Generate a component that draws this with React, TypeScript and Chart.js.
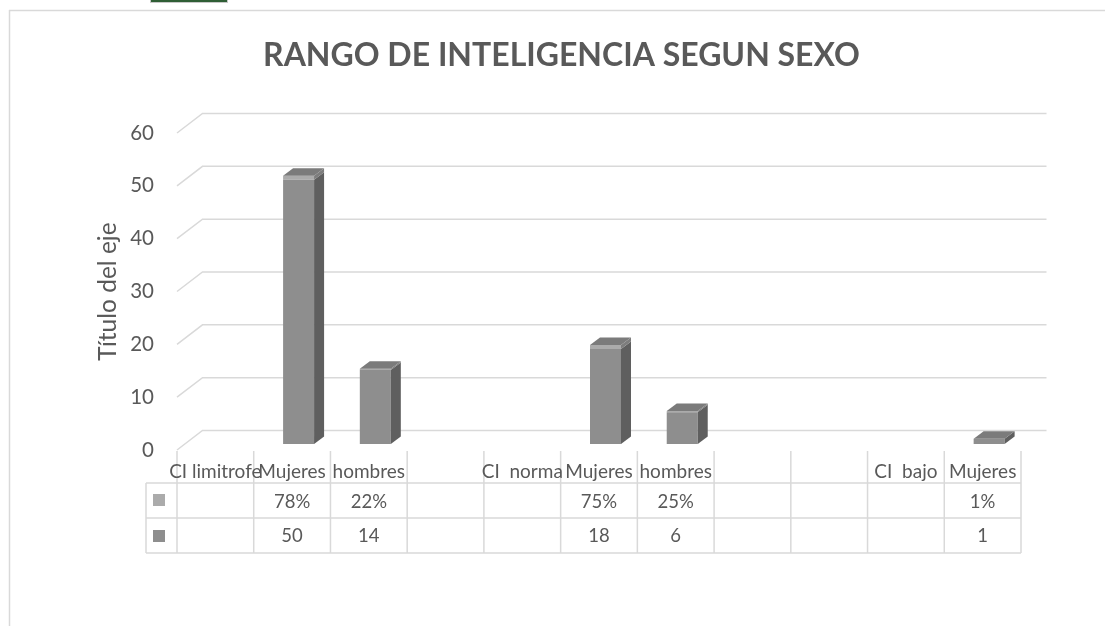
import React, { useEffect, useRef } from "react";
import { Chart, registerables } from "chart.js";

Chart.register(...registerables);

// ---- data ----
const categories = [
  "CI limitrofe",
  "Mujeres",
  "hombres",
  "",
  "CI  norma",
  "Mujeres",
  "hombres",
  "",
  "",
  "CI  bajo",
  "Mujeres",
];
const countValues: (number | null)[] = [null, 50, 14, null, null, 18, 6, null, null, null, 1];
const percentValues: (number | null)[] = [null, 0.78, 0.22, null, null, 0.75, 0.25, null, null, null, 0.01];
const yTicks = [0, 10, 20, 30, 40, 50, 60];
const chartTitle = "RANGO DE INTELIGENCIA SEGUN SEXO";
const axisTitle = "Título del eje";

// ---- styles ----
const FONT = "Lato";
const TEXT = "#595959";
const GRID = "#d9d9d9";
const DARK_FRONT = "#8e8e8e";
const DARK_SIDE = "#5f5f5f";
const LIGHT_FRONT = "#ababab";
const LIGHT_SIDE = "#7d7d7d";
const TOP_FACE = "#7b7b7b";
const BACK = { x: 25.5, y: -19.5 };
const BAR_SHIFT = { x: 6.5, y: -6 };
const DEPTH = { x: 10, y: -7.5 };

const fmtPct = (v: number) => Math.round(v * 100) + "%";

const deco3D = {
  id: "deco3D",
  beforeDraw(chart: any) {
    const ctx = chart.ctx;
    ctx.save();
    ctx.strokeStyle = GRID;
    ctx.lineWidth = 1.5;
    ctx.beginPath();
    ctx.moveTo(9.5, 10);
    ctx.lineTo(9.5, 626);
    ctx.moveTo(9, 10.5);
    ctx.lineTo(1105, 10.5);
    ctx.stroke();
    ctx.restore();
  },
  beforeDatasetsDraw(chart: any) {
    const ctx = chart.ctx;
    const { left, right } = chart.chartArea;
    const ys = chart.scales.y;
    ctx.save();
    ctx.strokeStyle = GRID;
    ctx.lineWidth = 1.5;
    ctx.beginPath();
    for (const v of yTicks) {
      const y = ys.getPixelForValue(v);
      ctx.moveTo(left, y);
      ctx.lineTo(left + BACK.x, y + BACK.y);
      ctx.lineTo(right + BACK.x, y + BACK.y);
    }
    ctx.stroke();
    ctx.restore();
    ctx.save();
    ctx.translate(BAR_SHIFT.x, BAR_SHIFT.y);
  },
  afterDatasetsDraw(chart: any) {
    const ctx = chart.ctx;
    const nSets = chart.data.datasets.length;
    for (let d = 0; d < nSets; d++) {
      const meta = chart.getDatasetMeta(d);
      const data = chart.data.datasets[d].data;
      meta.data.forEach((el: any, j: number) => {
        if (data[j] == null) return;
        const p = el.getProps(["x", "y", "base", "width"], true);
        const l = p.x - p.width / 2;
        const r = p.x + p.width / 2;
        const top = Math.min(p.y, p.base);
        const bot = Math.max(p.y, p.base);
        ctx.fillStyle = d === 0 ? DARK_SIDE : LIGHT_SIDE;
        ctx.beginPath();
        ctx.moveTo(r, top);
        ctx.lineTo(r + DEPTH.x, top + DEPTH.y);
        ctx.lineTo(r + DEPTH.x, bot + DEPTH.y);
        ctx.lineTo(r, bot);
        ctx.closePath();
        ctx.fill();
        let isTop = true;
        for (let k = d + 1; k < nSets; k++) {
          if (chart.data.datasets[k].data[j] != null) isTop = false;
        }
        if (isTop) {
          ctx.fillStyle = TOP_FACE;
          ctx.beginPath();
          ctx.moveTo(l, top);
          ctx.lineTo(l + DEPTH.x, top + DEPTH.y);
          ctx.lineTo(r + DEPTH.x, top + DEPTH.y);
          ctx.lineTo(r, top);
          ctx.closePath();
          ctx.fill();
        }
      });
    }
    ctx.restore();
  },
  afterDraw(chart: any) {
    const ctx = chart.ctx;
    const { left, right, bottom } = chart.chartArea;
    const xs = chart.scales.x;
    const n = categories.length;
    const w = (right - left) / n;
    const headTop = bottom + 1;
    const r1 = bottom + 33;
    const r2 = bottom + 68;
    const tBot = bottom + 103;
    const keyLeft = 146;

    ctx.save();
    // title
    ctx.fillStyle = TEXT;
    ctx.font = `bold 32px ${FONT}`;
    ctx.textAlign = "center";
    ctx.textBaseline = "alphabetic";
    ctx.fillText(chartTitle, 561.5, 66);

    // table grid
    ctx.strokeStyle = GRID;
    ctx.lineWidth = 1.5;
    ctx.beginPath();
    for (let i = 0; i <= n; i++) {
      const x = left + i * w;
      ctx.moveTo(x, headTop);
      ctx.lineTo(x, tBot);
    }
    ctx.moveTo(keyLeft, r1);
    ctx.lineTo(keyLeft, tBot);
    for (const y of [r1, r2, tBot]) {
      ctx.moveTo(keyLeft, y);
      ctx.lineTo(right, y);
    }
    ctx.stroke();

    // keys
    ctx.fillStyle = LIGHT_FRONT;
    ctx.fillRect(153, r1 + 11, 12, 12);
    ctx.fillStyle = DARK_FRONT;
    ctx.fillRect(153, r2 + 12, 12, 12);

    // texts
    ctx.fillStyle = TEXT;
    ctx.textAlign = "center";
    ctx.textBaseline = "alphabetic";
    for (let i = 0; i < n; i++) {
      const x = xs.getPixelForValue(i);
      ctx.font = `19px ${FONT}`;
      if (categories[i]) ctx.fillText(categories[i], x, bottom + 27.5);
      ctx.font = `18.5px ${FONT}`;
      const pv = percentValues[i];
      if (pv != null) ctx.fillText(fmtPct(pv), x, bottom + 57.5);
      const cv = countValues[i];
      if (cv != null) ctx.fillText(String(cv), x, bottom + 92);
    }
    ctx.restore();
  },
};

export default function App() {
  const ref = useRef<HTMLCanvasElement | null>(null);
  useEffect(() => {
    if (!ref.current) return;
    Chart.defaults.font.family = FONT;
    const chart = new Chart(ref.current, {
      type: "bar",
      data: {
        labels: categories,
        datasets: [
          {
            label: "Cantidad",
            data: countValues,
            backgroundColor: DARK_FRONT,
            borderWidth: 0,
            barPercentage: 0.404,
            categoryPercentage: 1,
          },
          {
            label: "Porcentaje",
            data: percentValues,
            backgroundColor: LIGHT_FRONT,
            borderWidth: 0,
            barPercentage: 0.404,
            categoryPercentage: 1,
          },
        ],
      },
      options: {
        animation: false,
        responsive: false,
        events: [],
        layout: { padding: { left: 80, right: 84, top: 133, bottom: 176 } },
        plugins: {
          legend: { display: false },
          tooltip: { enabled: false },
          title: { display: false },
        },
        scales: {
          x: { display: false, stacked: true },
          y: {
            stacked: true,
            min: 0,
            max: 60,
            afterBuildTicks: (s: any) => {
              s.ticks = yTicks.map((v) => ({ value: v }));
            },
            afterFit: (s: any) => {
              s.width = 97;
            },
            grid: { display: false, drawTicks: false },
            border: { display: false },
            ticks: { color: TEXT, font: { size: 20.5, family: FONT }, padding: 23 },
            title: {
              display: true,
              text: axisTitle,
              color: TEXT,
              font: { size: 24.5, family: FONT },
              padding: { top: 13, bottom: 0 },
            },
          },
        },
      },
      plugins: [deco3D],
    });
    return () => chart.destroy();
  }, []);
  return (
    <div style={{ position: "absolute", left: 0, top: 0, width: 1105, height: 626, background: "#fff" }}>
      <canvas ref={ref} width={1105} height={626} style={{ display: "block" }} />
      <div
        style={{
          position: "absolute",
          left: 150,
          top: 0,
          width: 76,
          height: 2,
          background: "#2f5e35",
          borderLeft: "1px solid #c8c8c8",
          borderRight: "1px solid #c8c8c8",
          borderBottom: "1px solid #c8c8c8",
        }}
      />
    </div>
  );
}
